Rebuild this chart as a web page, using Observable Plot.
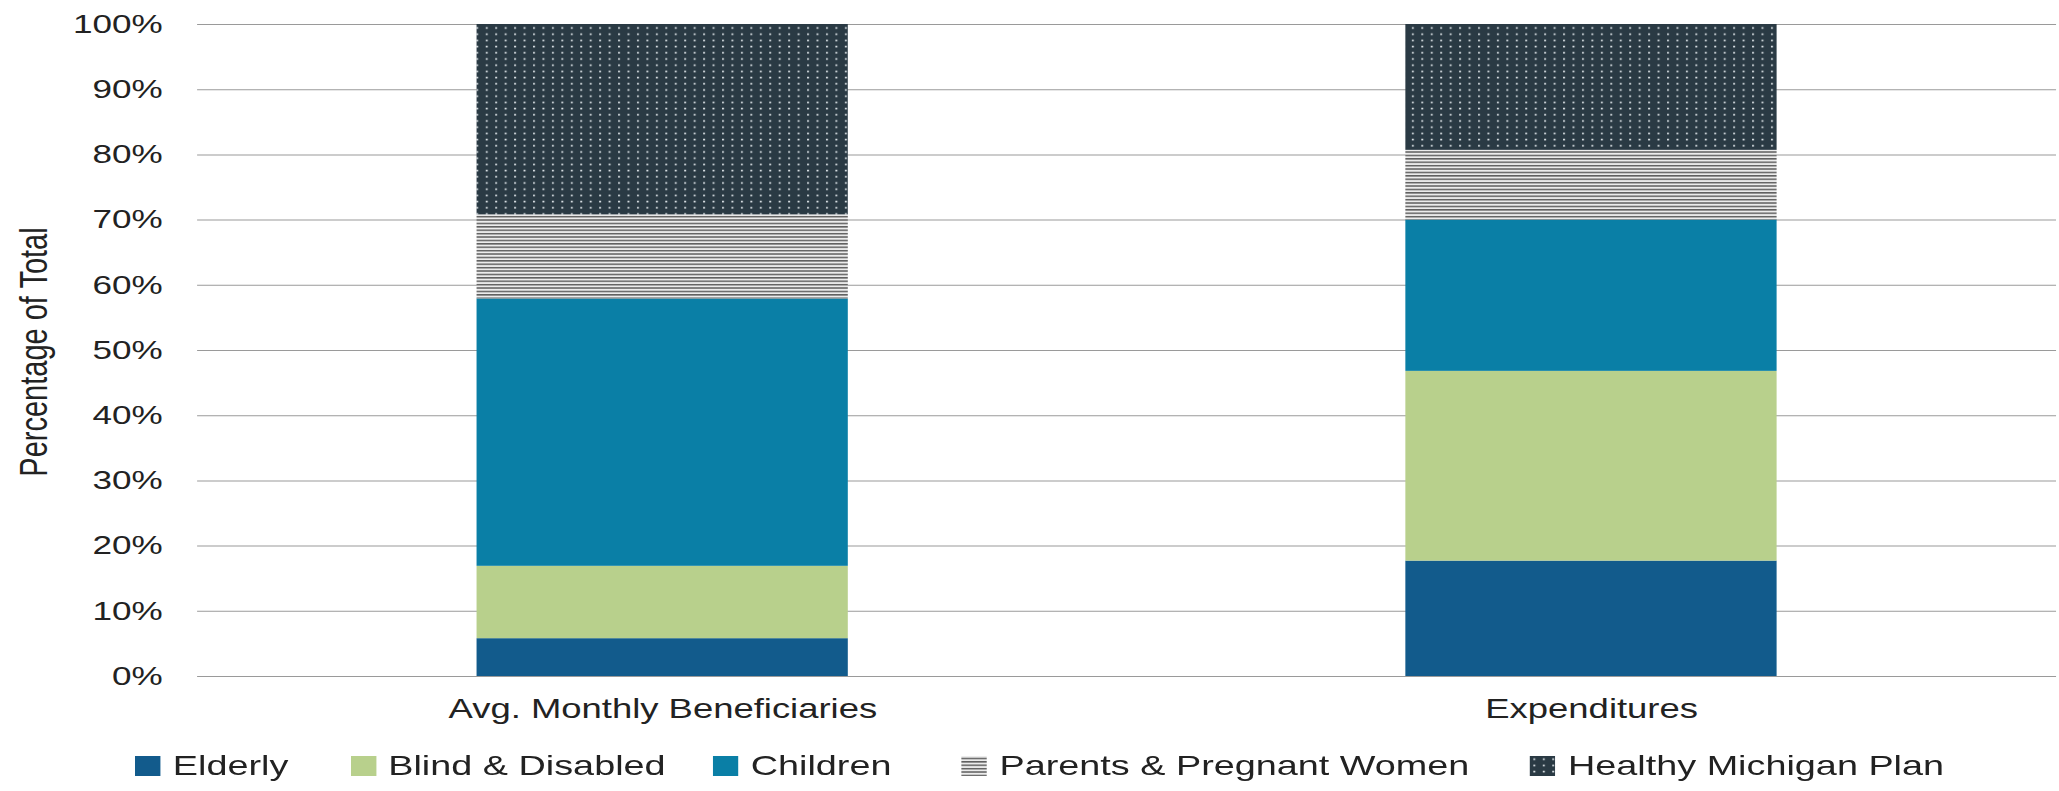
<!DOCTYPE html>
<html>
<head>
<meta charset="utf-8">
<script src="https://cdn.jsdelivr.net/npm/d3@7"></script>
<script src="https://cdn.jsdelivr.net/npm/@observablehq/plot@0.6"></script>
<style>
  html { margin: 0; padding: 0; background: #fff; overflow: hidden; }
  body { margin: 0; padding: 0; background: #fff; }
  #wrap { width: 1525px; transform: scaleX(1.35); transform-origin: 0 0; font-family: "Liberation Sans", Arial, sans-serif; color: #222; }
  #chart svg { display: block; }
  #legend { display: flex; align-items: center; height: 40px; margin-top: 16px; padding-left: 100px; font-size: 28px; line-height: 32px; }
  .item { display: flex; align-items: center; }
  .sw { width: 19px; height: 20px; margin-right: 9px; }
  .sw svg { display: block; }
</style>
</head>
<body>
<div id="wrap">
  <div id="chart"></div>
  <div id="legend"></div>
</div>
<script>
const categories = ["Avg. Monthly Beneficiaries", "Expenditures"];
const seriesNames = ["Elderly", "Blind & Disabled", "Children", "Parents & Pregnant Women", "Healthy Michigan Plan"];
const beneficiaries = [5.8, 11.1, 41.0, 12.9, 29.2];
const expenditures = [17.7, 29.1, 23.2, 10.7, 19.3];
const yTicks = [0, 10, 20, 30, 40, 50, 60, 70, 80, 90, 100];
const seriesFills = ["#125b8c", "#b8d08c", "#0a7fa6", "url(#pat-stripes)", "url(#pat-dots)"];
const legendGaps = [46, 35, 52, 45, 0];

const valuesByCategory = [beneficiaries, expenditures];
const rows = [];
categories.forEach((c, ci) => {
  seriesNames.forEach((s, si) => rows.push({category: c, series: s, value: valuesByCategory[ci][si]}));
});

const W = 1525, H = 730;
const chart = Plot.plot({
  width: W,
  height: H,
  marginLeft: 146,
  marginRight: 2,
  marginTop: 24,
  marginBottom: H - 676,
  style: {fontFamily: "'Liberation Sans', Arial, sans-serif", color: "#222", background: "#fff"},
  x: {domain: categories, paddingInner: 0.6, paddingOuter: 0.3, label: null},
  y: {domain: [0, 100], label: null},
  color: {type: "ordinal", domain: seriesNames, range: seriesFills},
  marks: [
    Plot.ruleY(yTicks, {stroke: "#9a9a9a", strokeWidth: 1}),
    Plot.barY(rows, Plot.stackY({order: seriesNames}, {x: "category", y: "value", fill: "series"})),
    Plot.axisY({ticks: yTicks, tickSize: 0, tickPadding: 26, tickFormat: d => d + "%", fontSize: 26, label: null}),
    Plot.axisX({tickSize: 0, tickPadding: 22, fontSize: 27, label: null})
  ]
});

const svg = d3.select(chart);
const defs = svg.insert("defs", ":first-child");
function addPatterns(defs, prefix) {
  const st = defs.append("pattern").attr("id", prefix + "stripes").attr("patternUnits", "userSpaceOnUse")
    .attr("width", 8).attr("height", 3.4);
  st.append("rect").attr("width", 8).attr("height", 3.4).attr("fill", "#ececec");
  st.append("rect").attr("y", 1.8).attr("width", 8).attr("height", 1.3).attr("fill", "#4a4a4a");
  const dt = defs.append("pattern").attr("id", prefix + "dots").attr("patternUnits", "userSpaceOnUse")
    .attr("width", 7).attr("height", 6.2);
  dt.append("rect").attr("width", 7).attr("height", 6.2).attr("fill", "#2a3a44");
  dt.append("rect").attr("x", 2.8).attr("y", 2.4).attr("width", 1.5).attr("height", 1.6).attr("fill", "#d5dce0");
}
addPatterns(defs, "pat-");

svg.append("text")
  .attr("transform", "translate(25,352) rotate(-90)")
  .attr("text-anchor", "middle")
  .attr("dominant-baseline", "central")
  .attr("font-size", 29)
  .attr("fill", "#222")
  .text("Percentage of Total");

document.getElementById("chart").appendChild(chart);

// legend
const legend = d3.select("#legend");
seriesNames.forEach((s, i) => {
  const item = legend.append("div").attr("class", "item").style("margin-right", legendGaps[i] + "px");
  const sw = item.append("div").attr("class", "sw").append("svg").attr("width", 19).attr("height", 20);
  const d = sw.append("defs");
  addPatterns(d, "lg" + i + "-");
  let f = seriesFills[i];
  if (f.startsWith("url(#pat-")) f = f.replace("url(#pat-", "url(#lg" + i + "-");
  sw.append("rect").attr("width", 19).attr("height", 20).attr("fill", f);
  item.append("span").text(s);
});
</script>
</body>
</html>
